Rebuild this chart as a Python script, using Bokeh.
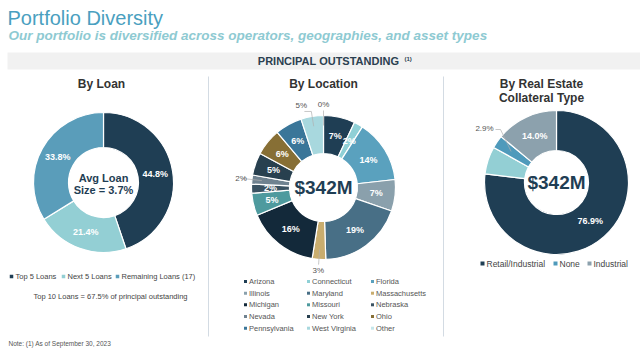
import numpy as np
from bokeh.plotting import figure
from bokeh.models import Range1d, Label, ColumnDataSource
from bokeh.core.properties import value
from bokeh.embed import file_html
from bokeh.resources import INLINE

# ---------------- data ----------------
loan_names = ["Top 5 Loans", "Next 5 Loans", "Remaining Loans (17)"]
loan_pct = [44.8, 21.4, 33.8]

states = ["Arizona", "Connecticut", "Florida", "Illinois", "Maryland", "Massachusetts",
          "Michigan", "Missouri", "Nebraska", "Nevada", "New York", "Ohio",
          "Pennsylvania", "West Virginia", "Other"]
state_pct = [7, 2, 14, 7, 19, 3, 16, 5, 2, 2, 5, 6, 6, 5, 0]

re_names = ["Retail/Industrial", "Other", "None", "Industrial"]
re_pct = [76.9, 6.2, 2.9, 14.0]
re_legend_names = ["Retail/Industrial", "None", "Industrial"]

# ---------------- styles ----------------
W, H = 640, 349
FONT = "Liberation Sans"
DARK = "#1f3e54"
loan_colors = ["#1f3e54", "#93cfd4", "#5a9dba"]
state_colors = ["#1f3e54", "#8fd0d6", "#5aa1be", "#8aa0ac", "#486f86", "#c9ad6e",
                "#13293a", "#4e9a9e", "#3a5262", "#6f8290", "#28404f", "#876f35",
                "#3a7699", "#a8d8de", "#c5e6ea"]
re_colors = ["#1f3e54", "#93cfd4", "#4f9abb", "#8ca1ad"]
re_legend_colors = ["#1f3e54", "#4f9abb", "#8ca1ad"]


def Y(t):
    return H - t


p = figure(width=W, height=H, x_range=Range1d(0, W), y_range=Range1d(0, H),
           output_backend="svg", toolbar_location=None, min_border=0,
           x_axis_type=None, y_axis_type=None)
p.grid.visible = False
p.outline_line_color = None
p.background_fill_color = "white"
p.border_fill_color = "white"


def lab(x, yt, text, size, color="#333333", bold=False, italic=False,
        align="left", font=FONT):
    style = "normal"
    if bold and italic:
        style = "bold italic"
    elif bold:
        style = "bold"
    elif italic:
        style = "italic"
    p.add_layout(Label(x=x, y=Y(yt), text=text, text_font=font,
                       text_font_size=size, text_color=color,
                       text_font_style=style, text_align=align,
                       text_baseline="middle"))


# ---------------- header ----------------
lab(7, 17, "Portfolio Diversity", "20px", "#4a9fc0")
lab(8, 35, "Our portfolio is diversified across operators, geographies, and asset types",
    "13.5px", "#8ecad2", bold=True, italic=True)
p.quad(left=7, right=W, bottom=Y(69), top=Y(52), fill_color="#f1f1f1", line_color=None)
lab(328, 60.5, "PRINCIPAL OUTSTANDING", "11px", "#2b3f50", bold=True, align="center")
lab(404, 58, "(1)", "6px", "#2b3f50", bold=True)

# dividers
p.segment(x0=[208, 443], x1=[208, 443], y0=[Y(76), Y(76)], y1=[Y(336), Y(336)],
          line_color="#d3dbe3", line_width=1)

# section titles
lab(101, 83, "By Loan", "12px", "#333333", bold=True, align="center")
lab(323, 83, "By Location", "12px", "#333333", bold=True, align="center")
lab(541, 83, "By Real Estate", "12px", "#333333", bold=True, align="center")
lab(541, 97, "Collateral Type", "12px", "#333333", bold=True, align="center")


def donut(cx, cyt, vals, colors, r_in, r_out):
    v = np.array(vals, dtype=float)
    fr = v / v.sum()
    cum = np.concatenate([[0], np.cumsum(fr)])
    start = np.pi / 2 - 2 * np.pi * cum[:-1]
    end = np.pi / 2 - 2 * np.pi * cum[1:]
    keep = fr > 0
    src = ColumnDataSource(dict(start=start[keep], end=end[keep],
                                color=list(np.array(colors)[keep])))
    p.annular_wedge(x=cx, y=Y(cyt), inner_radius=r_in, outer_radius=r_out,
                    start_angle="start", end_angle="end", direction="clock",
                    fill_color="color", line_color="white", line_width=1.2,
                    source=src)
    mid = (cum[:-1] + cum[1:]) / 2 * 2 * np.pi  # clockwise from top
    return mid


def polar(cx, cyt, ang, r):
    return cx + r * np.sin(ang), cyt - r * np.cos(ang)


# ---------------- By Loan ----------------
LCX, LCY = 103, 182
mid = donut(LCX, LCY, loan_pct, loan_colors, 35, 70)
for a, v in zip(mid, loan_pct):
    x, yt = polar(LCX, LCY, a, 52.5)
    lab(x, yt, f"{v:.1f}%", "9px", "white", bold=True, align="center")
lab(LCX, 177, "Avg Loan", "11px", DARK, bold=True, align="center")
lab(LCX, 189, "Size = 3.7%", "11px", DARK, bold=True, align="center")

lx = [11, 63, 117]
for x, name, c in zip(lx, loan_names, loan_colors):
    p.scatter(x=x, y=Y(276), marker="square", size=3.5, fill_color=c, line_color=None)
    lab(x + 4, 276, name, "7.5px", "#444444")
lab(110, 296, "Top 10 Loans = 67.5% of principal outstanding", "7.5px", "#444444",
    align="center")

# ---------------- By Location ----------------
GCX, GCY = 323, 187
mid = donut(GCX, GCY, state_pct, state_colors, 34, 72)
outside = {"Massachusetts", "Nevada", "West Virginia", "Other"}
shift = {"West Virginia": -9, "Other": 0, "Nevada": 0, "Massachusetts": 0}
for a, v, s in zip(mid, state_pct, states):
    if s in outside:
        x0, y0 = polar(GCX, GCY, a, 62)
        x1, y1 = polar(GCX, GCY, a, 77)
        x2, y2 = polar(GCX, GCY, a, 83)
        x2 += shift[s]
        p.line(x=[x0, x1, x2 + (3 if shift[s] else 0)], y=[Y(y0), Y(y1), Y(y1)],
               line_color="#b0b0b0", line_width=0.7)
        lab(x2, y2, f"{v}%", "8px", "#555555", align="center")
    else:
        x, yt = polar(GCX, GCY, a, 53)
        lab(x, yt, f"{v}%", "9px", "white", bold=True, align="center")
lab(GCX, GCY, "$342M", "19px", DARK, bold=True, align="center")

cols = [245, 308, 372]
rows = [281, 292.7, 304.3, 316, 327.7]
for i, (s, c) in enumerate(zip(states, state_colors)):
    x = cols[i % 3]
    yt = rows[i // 3]
    p.scatter(x=x, y=Y(yt), marker="square", size=3, fill_color=c, line_color=None)
    lab(x + 3.5, yt, s, "7.5px", "#555555")

# ---------------- By Real Estate ----------------
RCX, RCY = 556, 182
mid = donut(RCX, RCY, re_pct, re_colors, 32, 72)
for a, v, n in zip(mid, re_pct, re_names):
    if v >= 10:
        x, yt = polar(RCX, RCY, a, 51)
        lab(x, yt, f"{v:.1f}%", "9px", "white", bold=True, align="center")
    elif n == "None":
        x0, y0 = polar(RCX, RCY, a, 55)
        p.line(x=[x0, 500, 495], y=[Y(y0), Y(129), Y(129)], line_color="#b0b0b0",
               line_width=0.7)
        lab(484, 128, f"{v:.1f}%", "8px", "#555555", align="center")
lab(RCX, RCY, "$342M", "19px", DARK, bold=True, align="center")

rx = [482, 555, 589]
for x, name, c in zip(rx, re_legend_names, re_legend_colors):
    p.scatter(x=x, y=Y(263), marker="square", size=4, fill_color=c, line_color=None)
    lab(x + 4, 263, name, "8.5px", "#444444")

# footnote
lab(8, 343, "Note:  (1) As of September 30, 2023", "6.5px", "#555555")

open("out.html", "w").write(file_html(p, INLINE))
